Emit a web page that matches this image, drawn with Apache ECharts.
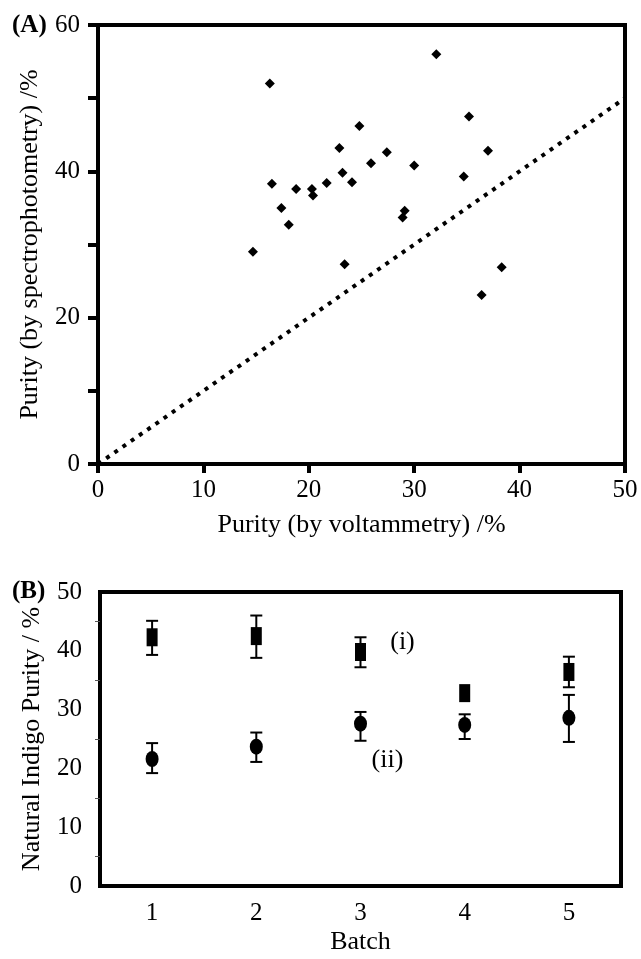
<!DOCTYPE html>
<html><head><meta charset="utf-8">
<script src="https://cdn.jsdelivr.net/npm/echarts@6/dist/echarts.min.js"></script>
<style>html,body{margin:0;padding:0;background:#fff}#c{width:641px;height:959px}</style>
</head><body><div id="c"></div>
<script>
// ---------- Panel A data ----------
const voltammetry = [14.7, 16.3, 16.5, 17.4, 18.1, 18.8, 20.3, 20.4, 21.7, 22.9, 23.2, 23.4, 24.1, 24.8, 25.9, 27.4, 28.9, 29.1, 30.0, 32.1, 34.7, 35.2, 36.4, 37.0, 38.3];
const spectrophotometry = [29.0, 52.0, 38.3, 35.0, 32.7, 37.6, 37.6, 36.7, 38.4, 43.2, 39.8, 27.3, 38.5, 46.2, 41.1, 42.6, 33.7, 34.6, 40.8, 56.0, 39.3, 47.5, 23.1, 42.8, 26.9];
const diagX = [0, 50];
const diagY = [0, 50];
const aYTickLabels = ['0', '20', '40', '60'];
const aXTickLabels = ['0', '10', '20', '30', '40', '50'];

// ---------- Panel B data ----------
const batches = ['1', '2', '3', '4', '5'];
const purityI = [42.3, 42.5, 39.8, 32.8, 36.4];
const purityIHigh = [45.1, 46.0, 42.3, null, 39.0];
const purityILow = [39.3, 38.8, 37.2, null, 33.8];
const purityII = [21.6, 23.7, 27.6, 27.4, 28.6];
const purityIIHigh = [24.3, 26.1, 29.6, 29.2, 32.5];
const purityIILow = [19.2, 21.1, 24.7, 25.0, 24.5];
const annText = ['(i)', '(ii)'];
const annBatch = ['3', '3'];
const annValue = [41.4, 21.4];

const FONT = 'Liberation Serif';
const chart = echarts.init(document.getElementById('c'), null, {renderer: 'canvas'});

function errData(hi, lo) {
  const out = [];
  batches.forEach((b, i) => { if (hi[i] != null) out.push([i, hi[i], lo[i]]); });
  return out;
}
function errRender(params, api) {
  const x = api.value(0), hi = api.value(1), lo = api.value(2);
  const t = api.coord([x, hi]), b = api.coord([x, lo]);
  const w = 6;
  const st = {stroke: '#000', lineWidth: 2};
  return {type: 'group', children: [
    {type: 'line', shape: {x1: t[0], y1: t[1], x2: b[0], y2: b[1]}, style: st},
    {type: 'line', shape: {x1: t[0] - w, y1: t[1], x2: t[0] + w, y2: t[1]}, style: st},
    {type: 'line', shape: {x1: b[0] - w, y1: b[1], x2: b[0] + w, y2: b[1]}, style: st}
  ]};
}

const axisLabelStyle = {color: '#000', fontFamily: FONT, fontSize: 25};
const nameStyle = {color: '#000', fontFamily: FONT, fontSize: 26};
const solid = {color: '#000', opacity: 1};

const option = {
  backgroundColor: '#fff',
  animation: false,
  graphic: [
    {type: 'text', left: 12, top: 13, style: {text: '(A)', font: 'bold 25px "Liberation Serif"', fill: '#000'}},
    {type: 'text', left: 12, top: 579, style: {text: '(B)', font: 'bold 25px "Liberation Serif"', fill: '#000'}}
  ],
  grid: [
    {left: 98, top: 25, width: 527, height: 439, show: true, borderColor: '#000', borderWidth: 4},
    {left: 100, top: 592, width: 521, height: 294, show: true, borderColor: '#000', borderWidth: 4}
  ],
  xAxis: [
    {gridIndex: 0, type: 'value', min: 0, max: 50, interval: 10,
     axisLine: {lineStyle: {color: '#000', width: 4}},
     axisTick: {inside: false, length: 9, lineStyle: {color: '#000', width: 4}},
     axisLabel: Object.assign({margin: 14, formatter: v => aXTickLabels.includes(String(v)) ? String(v) : ''}, axisLabelStyle),
     splitLine: {show: false},
     name: 'Purity (by voltammetry) /%', nameLocation: 'middle', nameGap: 48, nameTextStyle: nameStyle},
    {gridIndex: 1, type: 'category', data: batches, boundaryGap: true,
     axisLine: {lineStyle: {color: '#000', width: 4}},
     axisTick: {alignWithLabel: true, inside: false, length: 9, lineStyle: {color: '#000', width: 4}},
     axisLabel: Object.assign({margin: 15}, axisLabelStyle),
     splitLine: {show: false},
     name: 'Batch', nameLocation: 'middle', nameGap: 43, nameTextStyle: nameStyle},
    {gridIndex: 1, type: 'category', data: batches, boundaryGap: true, position: 'bottom',
     axisLine: {show: false},
     axisTick: {alignWithLabel: false, inside: true, length: 4, lineStyle: {color: '#888', width: 1}},
     axisLabel: {show: false}, splitLine: {show: false}}
  ],
  yAxis: [
    {gridIndex: 0, type: 'value', min: 0, max: 60, interval: 10,
     axisLine: {lineStyle: {color: '#000', width: 4}},
     axisTick: {inside: false, length: 10, lineStyle: {color: '#000', width: 4}},
     axisLabel: Object.assign({margin: 18, formatter: v => aYTickLabels.includes(String(v)) ? String(v) : ''}, axisLabelStyle),
     splitLine: {show: false},
     name: 'Purity (by spectrophotometry) /%', nameLocation: 'middle', nameGap: 55, nameTextStyle: nameStyle},
    {gridIndex: 1, type: 'value', min: 0, max: 50, interval: 10,
     axisLine: {lineStyle: {color: '#000', width: 4}},
     axisTick: {inside: false, length: 10, lineStyle: {color: '#000', width: 4}},
     minorTick: {show: true, splitNumber: 2, length: 5, lineStyle: {color: '#555', width: 1}},
     axisLabel: Object.assign({margin: 18}, axisLabelStyle),
     splitLine: {show: false},
     name: 'Natural Indigo Purity / %', nameLocation: 'middle', nameGap: 55, nameTextStyle: nameStyle}
  ],
  series: [
    {type: 'line', xAxisIndex: 0, yAxisIndex: 0, data: diagX.map((x, i) => [x, diagY[i]]),
     showSymbol: false, symbol: 'none', lineStyle: {color: '#000', width: 4, type: [4, 6], cap: 'butt'}, z: 2},
    {type: 'scatter', xAxisIndex: 0, yAxisIndex: 0, data: voltammetry.map((x, i) => [x, spectrophotometry[i]]),
     symbol: 'diamond', symbolSize: [10, 10], itemStyle: solid, z: 3},
    {type: 'custom', xAxisIndex: 1, yAxisIndex: 1, data: errData(purityIHigh, purityILow), renderItem: errRender,
     encode: {x: 0, y: [1, 2]}, z: 2},
    {type: 'custom', xAxisIndex: 1, yAxisIndex: 1, data: errData(purityIIHigh, purityIILow), renderItem: errRender,
     encode: {x: 0, y: [1, 2]}, z: 2},
    {type: 'scatter', xAxisIndex: 1, yAxisIndex: 1, data: batches.map((b, i) => [i, purityI[i]]),
     symbol: 'rect', symbolSize: [11, 18], itemStyle: solid, z: 3},
    {type: 'scatter', xAxisIndex: 1, yAxisIndex: 1, data: batches.map((b, i) => [i, purityII[i]]),
     symbol: 'circle', symbolSize: [13, 16], itemStyle: solid, z: 3},
    {type: 'scatter', xAxisIndex: 1, yAxisIndex: 1, silent: true,
     data: annText.map((t, i) => ({value: [batches.indexOf(annBatch[i]), annValue[i]], name: t})),
     symbolSize: 0, itemStyle: {color: 'transparent', opacity: 1},
     label: {show: true, formatter: p => p.name, position: 'inside', color: '#000', opacity: 1, fontFamily: FONT, fontSize: 26,
       offset: [0, 0]},
     labelLayout: function (p) { return {dx: p.dataIndex === 0 ? 42 : 27}; }, z: 4}
  ]
};
chart.setOption(option);
</script>
</body></html>
